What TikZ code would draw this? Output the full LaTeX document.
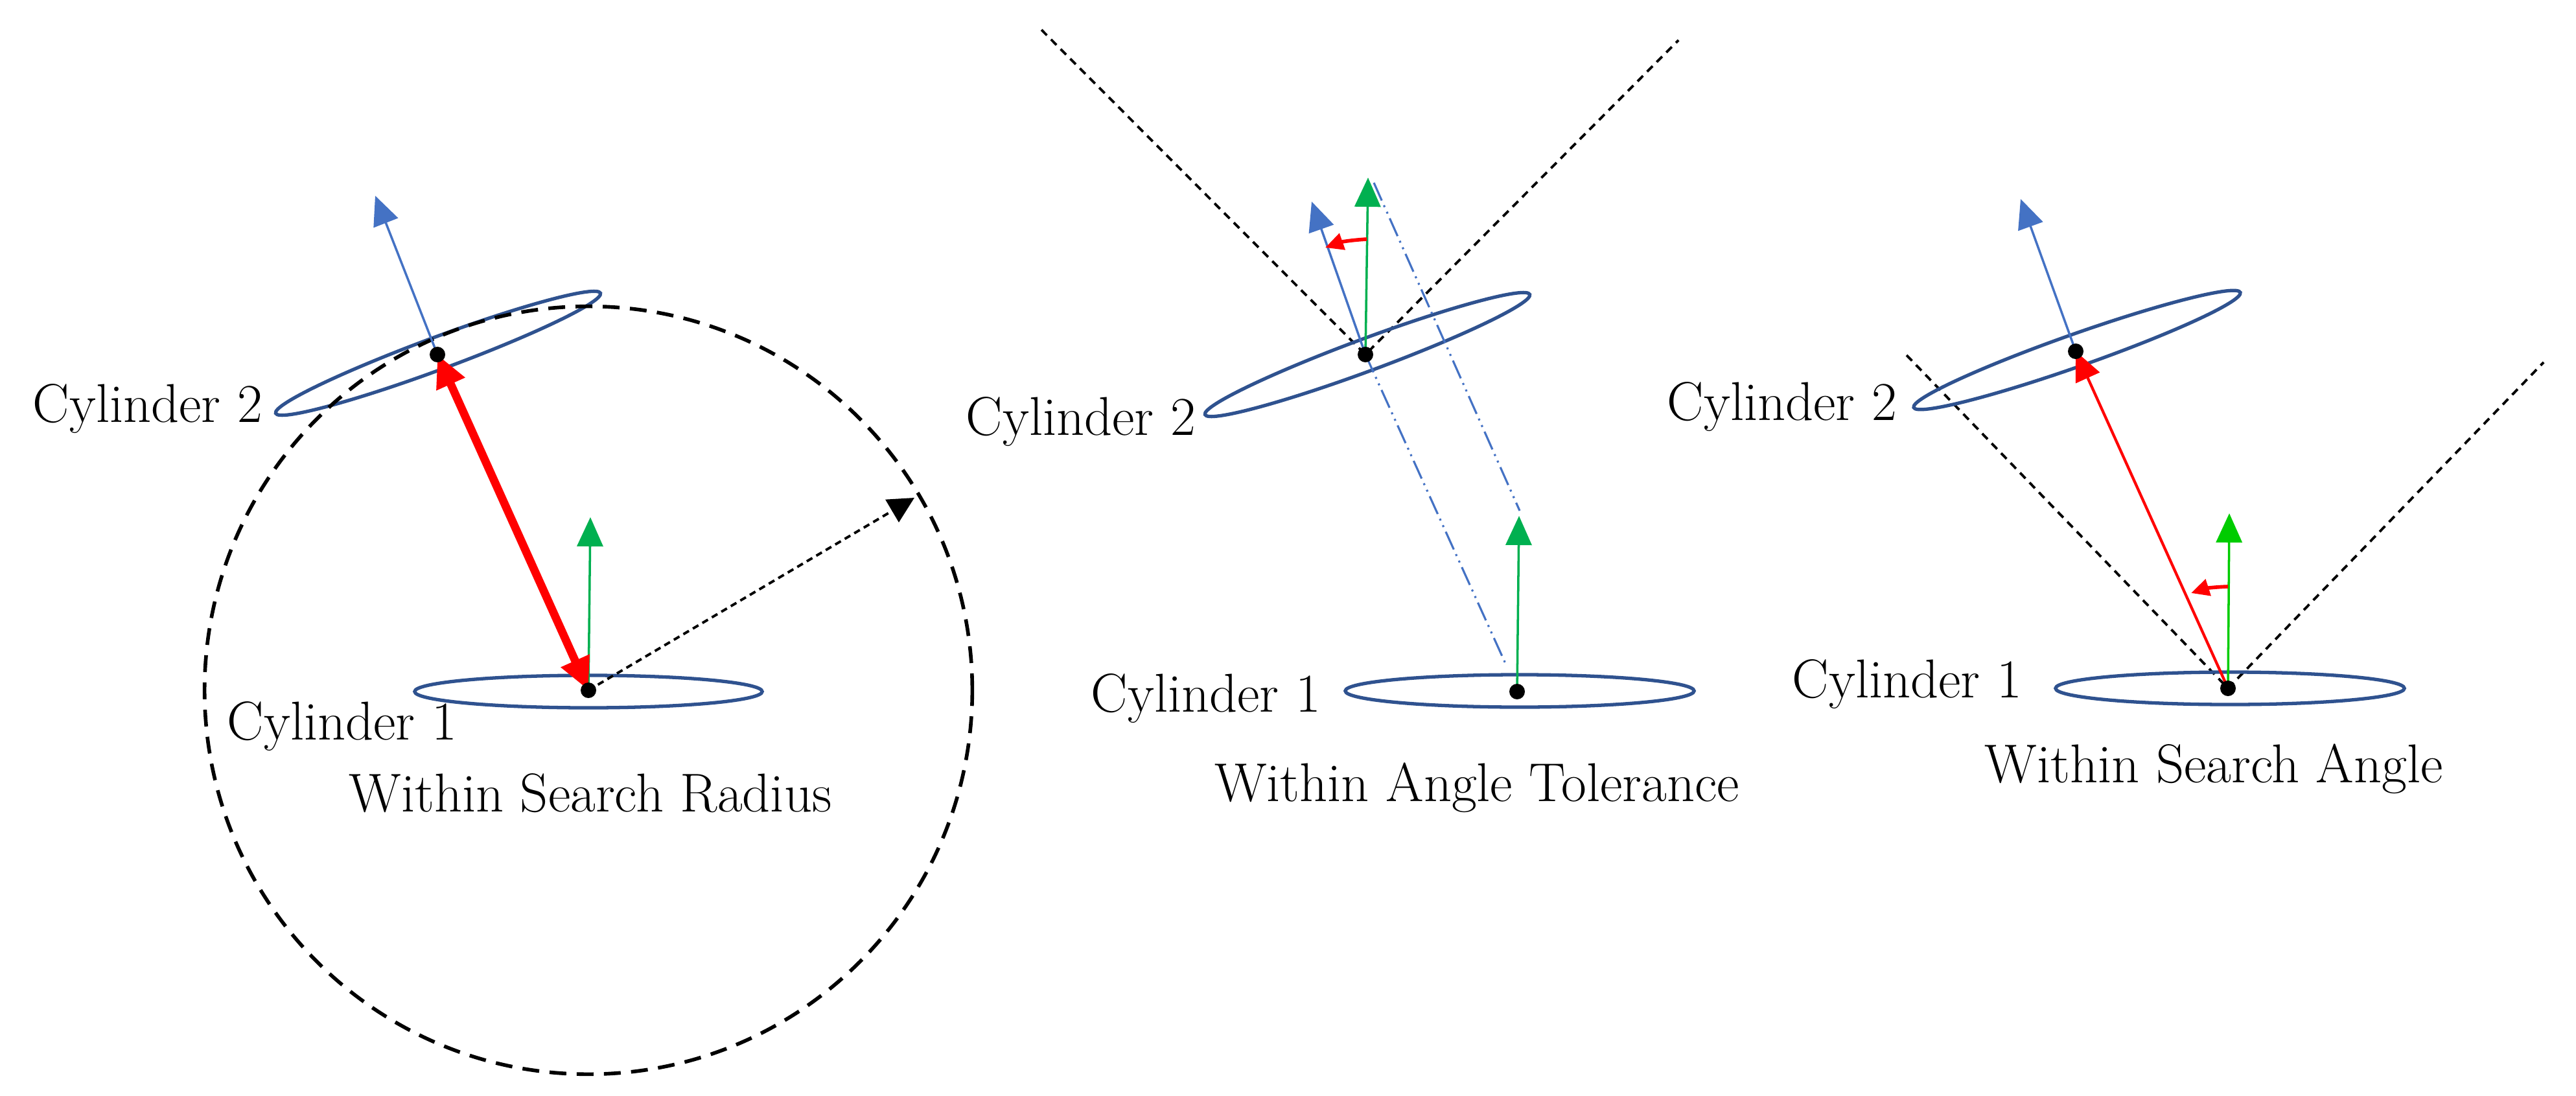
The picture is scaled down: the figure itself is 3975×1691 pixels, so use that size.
\documentclass[tikz,border=0pt]{standalone}
\usetikzlibrary{arrows.meta}
\definecolor{cylblue}{HTML}{2F528F}
\definecolor{nblue}{HTML}{4472C4}
\definecolor{ngreen}{HTML}{00B050}
\definecolor{bgreen}{HTML}{00CC00}
\begin{document}
\begin{tikzpicture}[x=0.01cm,y=-0.01cm,
  cyl/.style={draw=cylblue,line width=1.5pt},
  tip/.style={-{Triangle[length=0.45cm,width=0.4cm]}},
  nvec/.style={tip,draw=nblue,fill=nblue,line width=1pt},
  gvec/.style={tip,draw=ngreen,fill=ngreen,line width=1pt},
  bgvec/.style={tip,draw=bgreen,fill=bgreen,line width=1pt},
  cone/.style={black,line width=1.1pt,dash pattern=on 0.12cm off 0.09cm},
  dd/.style={draw=nblue,line width=0.9pt,dash pattern=on 0.3cm off 0.08cm on 0.03cm off 0.08cm on 0.03cm off 0.08cm},
  lab/.style={font=\fontsize{24}{28}\selectfont,inner sep=0pt},
  dot/.style={circle,fill=black,inner sep=0pt,minimum size=0.24cm}]
\useasboundingbox (0,0) rectangle (3975,1691);
% ---------- panel 1
\coordinate (a1) at (908,1065);
\coordinate (a2) at (675,547);
\draw[cyl] (908,1067) ellipse [x radius=2.68cm,y radius=0.25cm];
\draw[cyl,rotate around={20.3:(676,545)}] (676,545) ellipse [x radius=2.67cm,y radius=0.25cm];
\draw[black,line width=1.6pt,dash pattern=on 0.26cm off 0.16cm] (a1) circle [radius=5.92cm];
\coordinate (ar) at (1411,768);
\draw[-{Triangle[length=0.4cm,width=0.4cm]},black,line width=1.1pt,dash pattern=on 0.1cm off 0.07cm] (a1) -- (ar);
\coordinate (a2t) at (579,302);
\draw[nvec] (a2) -- (a2t);
\coordinate (a1t) at (911,798);
\draw[gvec] (a1) -- (a1t);
\draw[{Triangle[length=0.5cm,width=0.45cm]}-{Triangle[length=0.5cm,width=0.45cm]},red,line width=3.6pt] (a2) -- (a1);
\node[dot] (d1a) at (a1) {};
\node[dot] (d1b) at (a2) {};
\node[lab] (t1a) at (228,631) {Cylinder 2};
\node[lab] (t1b) at (528,1121) {Cylinder 1};
\node[lab] (t1c) at (911,1224) {Within Search Radius};
% ---------- panel 2
\coordinate (b2) at (2107,547);
\coordinate (b1) at (2341,1067);
\coordinate (bl) at (1607,46);
\coordinate (br) at (2590,62);
\draw[cone] (bl) -- (b2) -- (br);
\draw[cyl,rotate around={20.3:(2110,547)}] (2110,547) ellipse [x radius=2.67cm,y radius=0.25cm];
\draw[cyl] (2345,1066) ellipse [x radius=2.69cm,y radius=0.25cm];
\coordinate (bd1) at (2325,1028);
\coordinate (bd2a) at (2120,282);
\coordinate (bd2b) at (2345,788);
\draw[dd] (b2) -- (bd1);
\draw[dd] (bd2a) -- (bd2b);
\coordinate (b2t) at (2024,311);
\draw[nvec] (b2) -- (b2t);
\coordinate (b2g) at (2111,274);
\draw[gvec] (b2) -- (b2g);
\coordinate (b1g) at (2344,796);
\draw[gvec] (b1) -- (b1g);
\coordinate (bra) at (2109,369);
\coordinate (brb) at (2045,382);
\draw[-{Triangle[length=0.28cm,width=0.26cm]},red,line width=1.6pt] (bra) to[bend right=8] (brb);
\node[dot] (d2a) at (b1) {};
\node[dot] (d2b) at (b2) {};
\node[lab] (t2a) at (1668,651) {Cylinder 2};
\node[lab] (t2b) at (1861,1078) {Cylinder 1};
\node[lab] (t2c) at (2279,1215) {Within Angle Tolerance};
% ---------- panel 3
\coordinate (c2) at (3203,542);
\coordinate (c1) at (3438,1062);
\coordinate (cl) at (2942,548);
\coordinate (cr) at (3925,559);
\draw[cone] (cl) -- (c1) -- (cr);
\draw[cyl,rotate around={19.4:(3205,540)}] (3205,540) ellipse [x radius=2.67cm,y radius=0.25cm];
\draw[cyl] (3441,1062) ellipse [x radius=2.69cm,y radius=0.25cm];
\coordinate (c2t) at (3118,307);
\draw[nvec] (c2) -- (c2t);
\draw[-{Triangle[length=0.45cm,width=0.4cm]},red,line width=1.2pt] (c1) -- (c2);
\coordinate (c1g) at (3440,792);
\draw[bgvec] (c1) -- (c1g);
\coordinate (cra) at (3438,905);
\coordinate (crb) at (3381,915);
\draw[-{Triangle[length=0.28cm,width=0.26cm]},red,line width=1.6pt] (cra) to[bend right=8] (crb);
\node[dot] (d3a) at (c1) {};
\node[dot] (d3b) at (c2) {};
\node[lab] (t3a) at (2750,628) {Cylinder 2};
\node[lab] (t3b) at (2943,1056) {Cylinder 1};
\node[lab] (t3c) at (3416,1186) {Within Search Angle};
\end{tikzpicture}
\end{document}
